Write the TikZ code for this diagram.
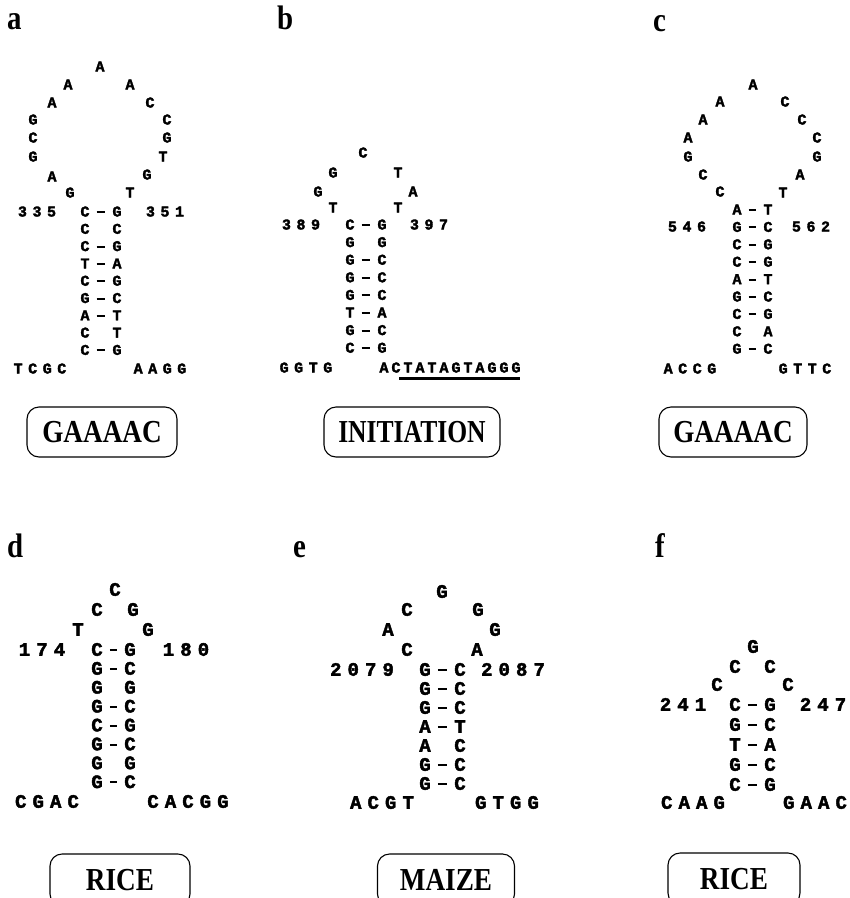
\documentclass[tikz,border=0pt]{standalone}
\usepackage{fontspec}
\usetikzlibrary{calc}
\newfontfamily\seqf{Liberation Mono}[BoldFeatures={FakeBold=2.2}]
\newfontfamily\seqsA{Liberation Mono}[LetterSpace=37,BoldFeatures={FakeBold=2.2}]
\newfontfamily\seqsB{Liberation Mono}[LetterSpace=20,BoldFeatures={FakeBold=2.2}]
\newfontfamily\seqsD{Liberation Mono}[LetterSpace=32,BoldFeatures={FakeBold=2.2}]
\newfontfamily\labf{Liberation Serif}[FakeStretch=0.85]
\newfontfamily\labn{Liberation Serif}[FakeStretch=0.8]
\tikzset{
  ntA/.style={font=\seqf\bfseries\fontsize{15}{15}\selectfont, inner sep=0pt, text height=9pt, text depth=0pt},
  ntD/.style={font=\seqf\bfseries\fontsize{19}{19}\selectfont, inner sep=0pt, text height=11.5pt, text depth=0pt},
  strA/.style={font=\seqsA\bfseries\fontsize{15}{15}\selectfont, inner sep=0pt, text height=9pt, text depth=0pt},
  strB/.style={font=\seqsB\bfseries\fontsize{15}{15}\selectfont, inner sep=0pt, text height=9pt, text depth=0pt},
  strD/.style={font=\seqsD\bfseries\fontsize{19}{19}\selectfont, inner sep=0pt, text height=11.5pt, text depth=0pt},
  bond/.style={line width=2pt, shorten <=7pt, shorten >=7pt},
  tag/.style={draw, rounded corners=12pt, line width=1.1pt, inner sep=0pt,
    font=\labf\bfseries\fontsize{32}{32}\selectfont, text height=21pt, text depth=0pt, minimum height=50pt},
  plabel/.style={font=\labf\bfseries\fontsize{34}{34}\selectfont, anchor=base west, inner sep=0pt},
  uline/.style={line width=3pt}
}
\begin{document}
\begin{tikzpicture}[x=1pt,y=-1pt]
\useasboundingbox[fill=white] (0,0) rectangle (850,898);
% panel labels
\node[plabel] (la) at (7,29) {a};
\node[plabel] (lb) at (277,29) {b};
\node[plabel] (lc) at (653,31) {c};
\node[plabel] (ld) at (7,557) {d};
\node[plabel] (le) at (293,557) {e};
\node[plabel] (lf) at (655,557) {f};

% ---------------- panel a
\foreach [count=\i] \x/\y/\t in {70/193/G,52/177/A,33/157/G,33/138/C,33/120/G,52/103/A,68/85/A,100/67/A,130/85/A,150/103/C,167/120/C,167/138/G,163/157/T,147/175/G,130/193/T}
  {\node[ntA] (al\i) at (\x,\y) {\t};}
\foreach [count=\i] \l/\r/\b in {C/G/1,C/C/0,C/G/1,T/A/1,C/G/1,G/C/1,A/T/1,C/T/0,C/G/1}{
  \node[ntA] (aL\i) at (85,{212+(\i-1)*17.3}) {\l};
  \node[ntA] (aR\i) at (117,{212+(\i-1)*17.3}) {\r};
  \ifnum\b=1 \draw[bond] (aL\i) -- (aR\i);\fi
}
\node[strA] (aN1) at (37,212) {335};
\node[strA] (aN2) at (165,212) {351};
\node[strA] (aT1) at (40,369) {TCGC};
\node[strA] (aT2) at (160,369) {AAGG};
\node[tag, minimum width=150pt] (aB) at (102,432) {GAAAAC};

% ---------------- panel b
\foreach [count=\i] \x/\y/\t in {333/208/T,318/192/G,333/173/G,363/153/C,398/173/T,413/192/A,398/208/T}
  {\node[ntA] (bl\i) at (\x,\y) {\t};}
\foreach [count=\i] \l/\r/\b in {C/G/1,G/G/0,G/C/1,G/C/1,G/C/1,T/A/1,G/C/1,C/G/1}{
  \node[ntA] (bL\i) at (350,{225+(\i-1)*17.6}) {\l};
  \node[ntA] (bR\i) at (382,{225+(\i-1)*17.6}) {\r};
  \ifnum\b=1 \draw[bond] (bL\i) -- (bR\i);\fi
}
\node[strA] (bN1) at (301,225) {389};
\node[strA] (bN2) at (429,225) {397};
\node[strA] (bT1) at (306,368) {GGTG};
\node[strB] (bT2) at (450,368) {ACTATAGTAGGG};
\coordinate (bu1) at ($(bT2.south west)+(20,6)$);
\coordinate (bu2) at ($(bT2.south east)+(-1,6)$);
\draw[uline] (bu1) -- (bu2);
\node[tag, minimum width=176pt, font=\labn\bfseries\fontsize{32}{32}\selectfont] (bB) at (412,432) {INITIATION};

% ---------------- panel c
\foreach [count=\i] \x/\y/\t in {720/192/C,703/175/C,688/157/G,688/138/A,703/120/A,720/102/A,753/85/A,785/102/C,802/120/C,817/138/C,817/157/G,800/175/A,783/193/T}
  {\node[ntA] (cl\i) at (\x,\y) {\t};}
\foreach [count=\i] \l/\r/\b in {A/T/1,G/C/1,C/G/1,C/G/1,A/T/1,G/C/1,C/G/1,C/A/0,G/C/1}{
  \node[ntA] (cL\i) at (737,{210+(\i-1)*17.4}) {\l};
  \node[ntA] (cR\i) at (768,{210+(\i-1)*17.4}) {\r};
  \ifnum\b=1 \draw[bond] (cL\i) -- (cR\i);\fi
}
\node[strA] (cN1) at (687,227) {546};
\node[strA] (cN2) at (811,227) {562};
\node[strA] (cT1) at (690,369) {ACCG};
\node[strA] (cT2) at (805,369) {GTTC};
\node[tag, minimum width=148pt] (cB) at (733,432) {GAAAAC};

% ---------------- panel d
\foreach [count=\i] \x/\y/\t in {78/630/T,97/610/C,115/590/C,133/610/G,148/630/G}
  {\node[ntD] (dl\i) at (\x,\y) {\t};}
\foreach [count=\i] \l/\r/\b in {C/G/1,G/C/1,G/G/0,G/C/1,C/G/1,G/C/1,G/G/0,G/C/1}{
  \node[ntD] (dL\i) at (97,{650+(\i-1)*18.9}) {\l};
  \node[ntD] (dR\i) at (130,{650+(\i-1)*18.9}) {\r};
  \ifnum\b=1 \draw[bond] (dL\i) -- (dR\i);\fi
}
\node[strD] (dN1) at (42,650) {174};
\node[strD] (dN2) at (186,650) {180};
\node[strD] (dT1) at (47,802) {CGAC};
\node[strD] (dT2) at (188,802) {CACGG};
\node[tag, minimum width=140pt, minimum height=52pt] (dB) at (120,880) {RICE};

% ---------------- panel e
\foreach [count=\i] \x/\y/\t in {407/650/C,388/630/A,407/610/C,442/592/G,478/610/G,495/630/G,477/650/A}
  {\node[ntD] (el\i) at (\x,\y) {\t};}
\foreach [count=\i] \l/\r/\b in {G/C/1,G/C/1,G/C/1,A/T/1,A/C/0,G/C/1,G/C/1}{
  \node[ntD] (eL\i) at (425,{670+(\i-1)*19}) {\l};
  \node[ntD] (eR\i) at (460,{670+(\i-1)*19}) {\r};
  \ifnum\b=1 \draw[bond] (eL\i) -- (eR\i);\fi
}
\node[strD] (eN1) at (362,670) {2079};
\node[strD] (eN2) at (513,670) {2087};
\node[strD] (eT1) at (382,803) {ACGT};
\node[strD] (eT2) at (507,803) {GTGG};
\node[tag, minimum width=137pt, minimum height=52pt] (eB) at (446,880) {MAIZE};

% ---------------- panel f
\foreach [count=\i] \x/\y/\t in {717/685/C,735/667/C,753/647/G,770/667/C,788/685/C}
  {\node[ntD] (fl\i) at (\x,\y) {\t};}
\foreach [count=\i] \l/\r/\b in {C/G/1,G/C/1,T/A/1,G/C/1,C/G/1}{
  \node[ntD] (fL\i) at (735,{705+(\i-1)*20}) {\l};
  \node[ntD] (fR\i) at (770,{705+(\i-1)*20}) {\r};
  \ifnum\b=1 \draw[bond] (fL\i) -- (fR\i);\fi
}
\node[strD] (fN1) at (683,705) {241};
\node[strD] (fN2) at (823,705) {247};
\node[strD] (fT1) at (693,803) {CAAG};
\node[strD] (fT2) at (815,803) {GAAC};
\node[tag, minimum width=132pt, minimum height=52pt] (fB) at (734,879) {RICE};
\end{tikzpicture}
\end{document}
